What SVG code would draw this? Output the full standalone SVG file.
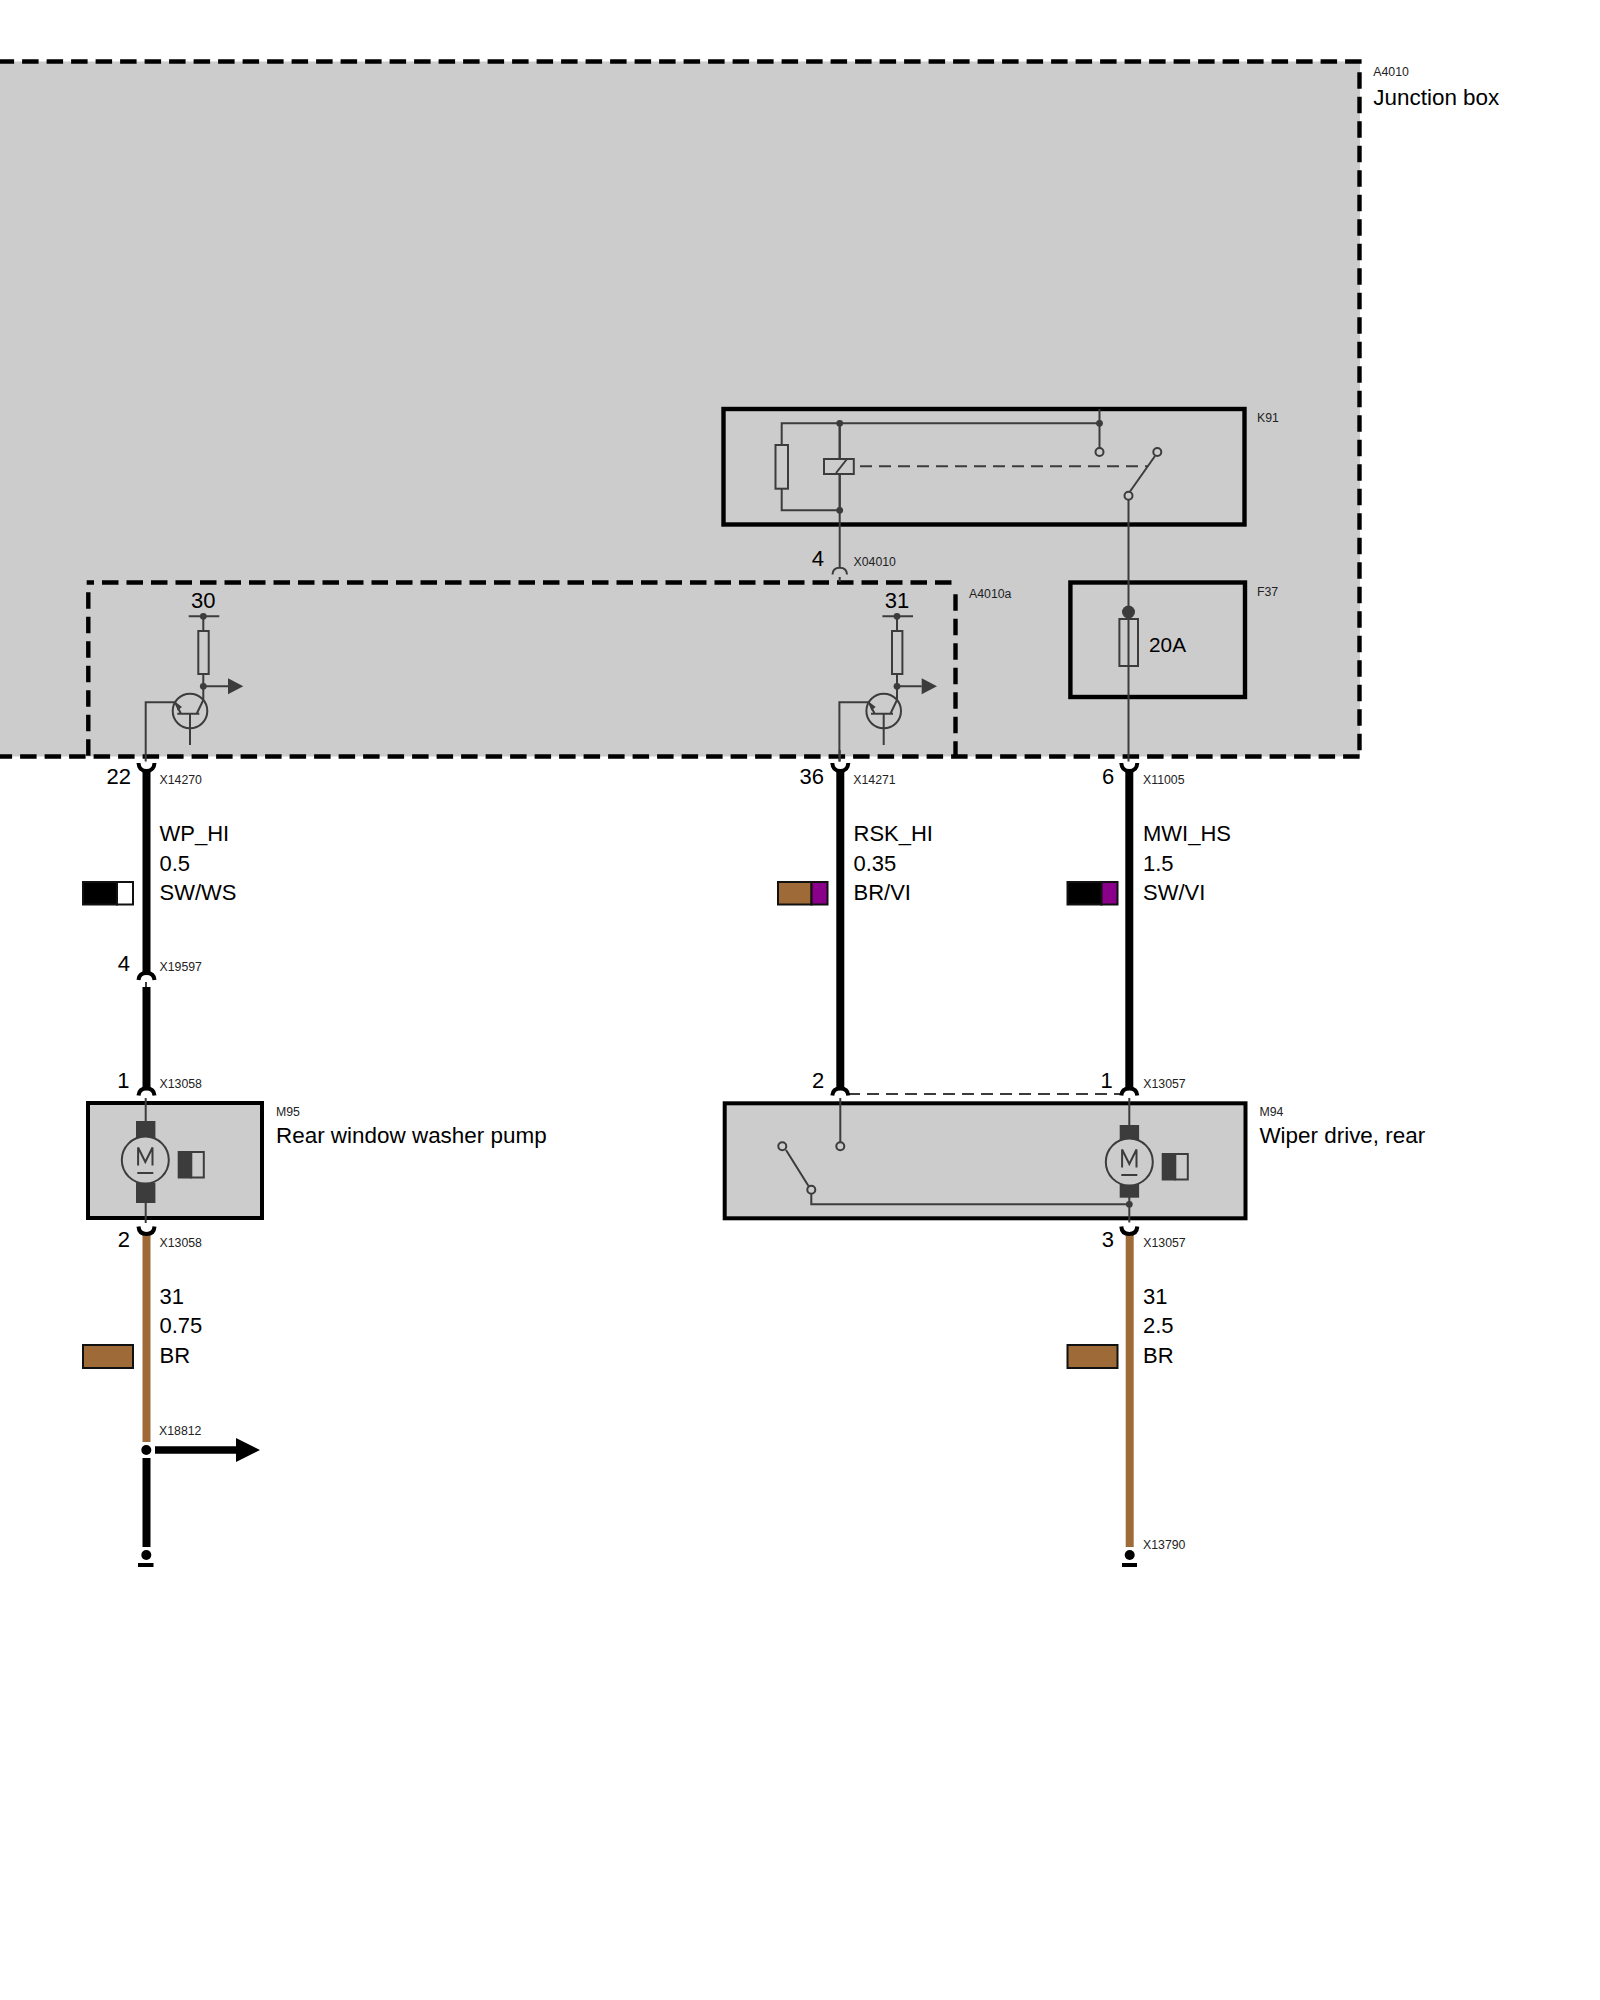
<svg xmlns="http://www.w3.org/2000/svg" width="1600" height="2000" viewBox="0 0 1600 2000">
<defs>
<style>
text{font-family:"Liberation Sans",Arial,sans-serif;fill:#000}
.l{font-size:22px}
.n{font-size:22.45px}
.s{font-size:12.3px;fill:#222}
.e{text-anchor:end}
.m{text-anchor:middle}
.dash{fill:none;stroke:#000;stroke-width:4.4;stroke-dasharray:16.5 8}
.box{fill:none;stroke:#000;stroke-width:4.4}
.t{fill:none;stroke:#3c3c3c;stroke-width:2}
.thin{fill:none;stroke:#3c3c3c;stroke-width:2}
.o{fill:#ccc;stroke:#3c3c3c;stroke-width:2}
.d{fill:#3c3c3c;stroke:none}
.w{fill:none;stroke:#000;stroke-width:8}
.b{fill:none;stroke:#9E6B38;stroke-width:8}
.fork{fill:none;stroke:#000;stroke-width:4}
.chip{stroke:#111;stroke-width:2}
</style>
<g id="transistor">
<path class="t" d="M188.7 616.3H219.3M203.3 616.3V631M203.3 674V700L196.7 713.7M177.3 713.7H199.3M190 713.7V745M145.7 761.5V702.3H175L181 713.7M203.3 686.3H228"/>
<circle class="d" cx="203.3" cy="616.3" r="3.4"/>
<circle class="d" cx="203.3" cy="686.3" r="3.4"/>
<rect class="o" x="198.3" y="631" width="10.4" height="43"/>
<path class="d" d="M228 678.3L243.3 686.3L228 694.3Z"/>
<circle class="t" cx="190" cy="711" r="17.3"/>
<path class="d" d="M175.5 702L182 707L177.5 710.5Z"/>
</g>
<g id="motor">
<circle class="o" cx="0" cy="0" r="23.5"/>
<path class="t" d="M-7.2 5.5V-12.5L0 2L7.2 -12.5V5.5M-8 13H8"/>
<rect class="d" x="32.4" y="-9" width="14" height="27.5"/>
<rect class="o" x="46" y="-8" width="12.5" height="25.5"/>
</g>
</defs>
<rect id="junction-fill" x="0" y="61.5" width="1360" height="695" fill="#ccc"/>
<g id="A4010">
<path class="dash" d="M1361.6 61.5H0"/>
<path class="dash" d="M1359.5 72.3V756.5"/>
<path class="dash" d="M-4.4 756.5H1361"/>
<text class="s" x="1373.3" y="76.3">A4010</text>
<text class="n" x="1373.3" y="104.5">Junction box</text>
</g>
<g id="A4010a">
<path class="dash" d="M86.7 582.5H957.5" stroke-dashoffset="9.2"/>
<path class="dash" d="M88.3 592.3V756.5"/>
<path class="dash" d="M955.5 594.3V756.5"/>
<text class="s" x="969" y="597.5">A4010a</text>
</g>
<g id="K91">
<rect class="box" x="723.5" y="409" width="521" height="115.5"/>
<path class="t" d="M1099.5 409V448M839.7 423.3H781.7V445M781.7 488.7V510.3H839.7M839.7 423.3H1099.5M839.7 423.3V567"/>
<circle class="d" cx="839.7" cy="423.3" r="3.4"/>
<circle class="d" cx="1099.5" cy="423.3" r="3.4"/>
<circle class="d" cx="839.7" cy="510.3" r="3.4"/>
<rect class="o" x="775.5" y="445" width="12.5" height="43.7"/>
<rect class="o" x="824" y="459" width="29.8" height="15"/>
<path class="t" d="M839.7 423.3V459M839.7 474V510M836 473L847 459"/>
<path class="t" d="M860 466.3H1148" stroke-dasharray="12 7"/>
<path class="t" d="M1155 456L1130 491.5"/>
<circle class="o" cx="1099.5" cy="452" r="4"/>
<circle class="o" cx="1157.3" cy="452" r="4"/>
<circle class="o" cx="1128.5" cy="495.7" r="4"/>
<text class="s" x="1257" y="421.5">K91</text>
</g>
<g id="F37">
<rect class="box" x="1070.4" y="582.5" width="174.6" height="114.5"/>
<circle class="d" cx="1128.5" cy="612" r="6.5"/>
<rect class="t" x="1119.4" y="619" width="18.6" height="47"/>
<text x="1149" y="652" font-size="20.8">20A</text>
<text class="s" x="1257" y="596.3">F37</text>
</g>
<g id="T1">
<use href="#transistor"/>
<text class="l m" x="203.3" y="608">30</text>
</g>
<g id="T2">
<use href="#transistor" x="693.7"/>
<text class="l m" x="897" y="608">31</text>
</g>
<g id="M95">
<rect x="88" y="1103" width="174" height="115" fill="#ccc" stroke="#000" stroke-width="4"/>
<rect class="d" x="136" y="1121" width="19.4" height="18.5"/>
<rect class="d" x="136" y="1183" width="19.4" height="20"/>
<use href="#motor" x="145.3" y="1160"/>
<text class="s" x="276" y="1115.7">M95</text>
<text class="n" x="276" y="1142.7">Rear window washer pump</text>
</g>
<g id="M94">
<rect x="724.7" y="1103.3" width="520.8" height="115" fill="#ccc" stroke="#000" stroke-width="4"/>
<rect class="d" x="1119.7" y="1125" width="19.4" height="15"/>
<rect class="d" x="1119.7" y="1183" width="19.4" height="14.7"/>
<use href="#motor" x="1129.3" y="1162"/>
<path class="t" d="M840.3 1098V1142M786 1150L808.5 1186M811.3 1193.7V1204.3H1129.3"/>
<circle class="o" cx="840.3" cy="1146.3" r="4"/>
<circle class="o" cx="782.3" cy="1146.3" r="4"/>
<circle class="o" cx="811.3" cy="1189.7" r="4"/>
<circle class="d" cx="1129.3" cy="1204.3" r="3.4"/>
<text class="s" x="1259.4" y="1115.7">M94</text>
<text class="n" x="1259.4" y="1142.7">Wiper drive, rear</text>
</g>
<g id="connectors">
<path class="thin" d="M1128.5 500V761.5"/>
<path class="thin" d="M839.7 577V582M839.7 750V761.5"/>
<path class="thin" d="M146 982V987"/>
<path class="thin" d="M145.7 1098V1121M145.7 1199V1223"/>
<path class="thin" d="M1129.3 1098V1125M1129.3 1195V1222.5"/>
<path class="thin" d="M848 1094H1120" stroke-dasharray="12 7"/>
<path class="thin" d="M832.5 574.5Q832.8 567.7 839.7 567.7Q846.8 567.7 847 574.5"/>
<path class="w" d="M146.5 770V975"/>
<path class="w" d="M146.5 987V1090"/>
<path class="w" d="M840.3 770V1090"/>
<path class="w" d="M1129.3 770V1090"/>
<path class="b" d="M146.5 1233V1442"/>
<path class="w" d="M146.5 1458V1547"/>
<path class="b" d="M1129.7 1233V1547"/>
<path class="fork" d="M138.5 763Q139 771 146.5 771Q154 771 154.5 763"/>
<path class="fork" d="M832.3 763Q832.8 771 840.3 771Q847.8 771 848.3 763"/>
<path class="fork" d="M1121.3 763Q1121.8 771 1129.3 771Q1136.8 771 1137.3 763"/>
<path class="fork" d="M138.5 980Q139 973 146.5 973Q154 973 154.5 980"/>
<path class="fork" d="M138.5 1095.5Q139 1088.5 146.5 1088.5Q154 1088.5 154.5 1095.5"/>
<path class="fork" d="M832.3 1095.5Q832.8 1088.5 840.3 1088.5Q847.8 1088.5 848.3 1095.5"/>
<path class="fork" d="M1121.3 1095.5Q1121.8 1088.5 1129.3 1088.5Q1136.8 1088.5 1137.3 1095.5"/>
<path class="fork" d="M138.5 1226.5Q139 1234 146.5 1234Q154 1234 154.5 1226.5"/>
<path class="fork" d="M1121.3 1226.5Q1121.8 1234 1129.3 1234Q1136.8 1234 1137.3 1226.5"/>
<circle cx="146.3" cy="1450" r="5"/>
<path d="M155 1446.2H236V1438L260 1450L236 1462V1453.8H155Z"/>
<circle cx="146.3" cy="1555" r="5"/>
<rect x="138" y="1563" width="15.5" height="4"/>
<circle cx="1129.7" cy="1555" r="5"/>
<rect x="1122" y="1563" width="15" height="4"/>
</g>
<g id="chips">
<rect class="chip" x="83" y="882" width="34" height="22.5" fill="#000"/>
<rect class="chip" x="117" y="882" width="16" height="22.5" fill="#fff"/>
<rect class="chip" x="778" y="882" width="33.5" height="22.5" fill="#9E6B38"/>
<rect class="chip" x="811.5" y="882" width="16" height="22.5" fill="#8B008B"/>
<rect class="chip" x="1067.5" y="882" width="34" height="22.5" fill="#000"/>
<rect class="chip" x="1101.5" y="882" width="16" height="22.5" fill="#8B008B"/>
<rect class="chip" x="83" y="1345" width="50" height="23" fill="#9E6B38"/>
<rect class="chip" x="1067.5" y="1345" width="50" height="23" fill="#9E6B38"/>
</g>
<g id="labels">
<text class="l e" x="131" y="784">22</text><text class="s" x="159.5" y="784">X14270</text>
<text class="l e" x="824" y="783.5">36</text><text class="s" x="853.3" y="784">X14271</text>
<text class="l e" x="1114.3" y="783.5">6</text><text class="s" x="1143" y="784">X11005</text>
<text class="l e" x="824" y="566">4</text><text class="s" x="853.5" y="566">X04010</text>
<text class="l e" x="130" y="970.6">4</text><text class="s" x="159.5" y="971">X19597</text>
<text class="l e" x="129.5" y="1087.7">1</text><text class="s" x="159.5" y="1088">X13058</text>
<text class="l e" x="824.3" y="1087.7">2</text>
<text class="l e" x="1112.7" y="1087.7">1</text><text class="s" x="1143.3" y="1088">X13057</text>
<text class="l e" x="130" y="1246.7">2</text><text class="s" x="159.5" y="1247">X13058</text>
<text class="l e" x="1114" y="1246.7">3</text><text class="s" x="1143.3" y="1247">X13057</text>
<text class="s" x="159" y="1435">X18812</text>
<text class="s" x="1143" y="1549">X13790</text>
<text class="l" x="159.5" y="841">WP_HI</text><text class="l" x="159.5" y="870.6">0.5</text><text class="l" x="159.5" y="899.7">SW/WS</text>
<text class="l" x="853.5" y="841">RSK_HI</text><text class="l" x="853.5" y="870.6">0.35</text><text class="l" x="853.5" y="899.7">BR/VI</text>
<text class="l" x="1143" y="841">MWI_HS</text><text class="l" x="1143" y="870.6">1.5</text><text class="l" x="1143" y="899.7">SW/VI</text>
<text class="l" x="159.5" y="1304">31</text><text class="l" x="159.5" y="1332.5">0.75</text><text class="l" x="159.5" y="1363">BR</text>
<text class="l" x="1143" y="1304">31</text><text class="l" x="1143" y="1332.5">2.5</text><text class="l" x="1143" y="1363">BR</text>
</g>
</svg>
